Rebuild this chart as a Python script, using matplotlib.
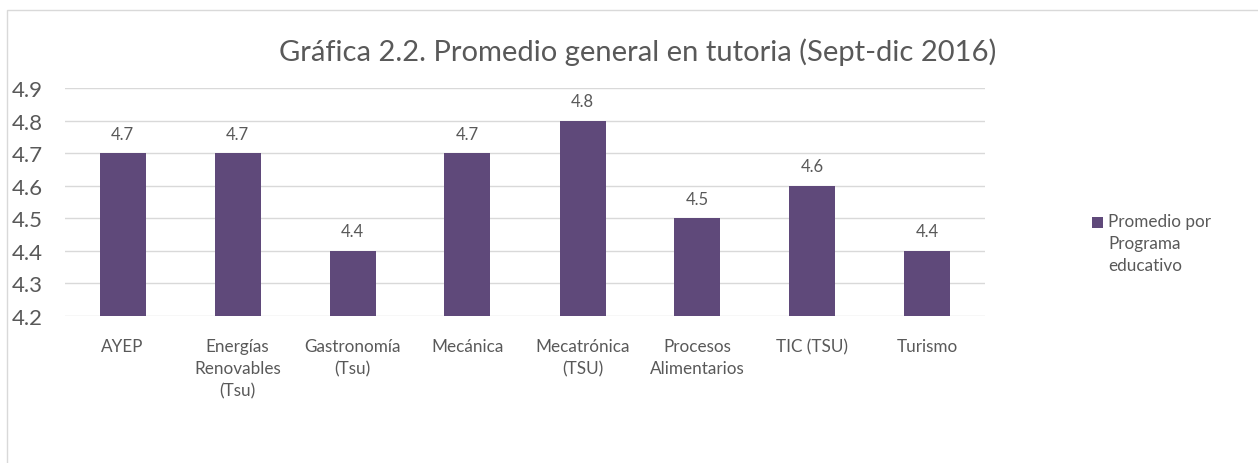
import matplotlib
matplotlib.use("Agg")
import matplotlib.pyplot as plt
from matplotlib.patches import Rectangle

categories = ["AYEP", "Energías\nRenovables\n(Tsu)", "Gastronomía\n(Tsu)", "Mecánica",
              "Mecatrónica\n(TSU)", "Procesos\nAlimentarios", "TIC (TSU)", "Turismo"]
values = [4.7, 4.7, 4.4, 4.7, 4.8, 4.5, 4.6, 4.4]
yticks = [4.2, 4.3, 4.4, 4.5, 4.6, 4.7, 4.8, 4.9]
series_name = "Promedio por\nPrograma\neducativo"
title = "Gráfica 2.2. Promedio general en tutoria (Sept-dic 2016)"

plt.rcParams['font.family'] = ['Lato', 'DejaVu Sans']
txt = "#595959"
bar_color = "#5F497A"
grid = "#D9D9D9"

fig = plt.figure(figsize=(12.58, 4.64), dpi=100)
fig.patches.append(Rectangle((7/1258, -0.1), 1.2, (464-11)/464 + 0.1, transform=fig.transFigure,
                             fill=False, edgecolor=grid, linewidth=1))
ax = fig.add_axes([65/1258, 1-317/464, 920/1258, (317-89)/464])
x = list(range(len(categories)))
ax.bar(x, [v - 4.2 for v in values], bottom=4.2, width=0.4, color=bar_color, zorder=3)
ax.set_ylim(4.2, 4.9)
ax.set_xlim(-0.5, len(categories) - 0.5)
ax.set_yticks(yticks)
ax.set_yticklabels([f"{t:.1f}" for t in yticks], fontsize=16, color=txt)
ax.set_xticks(x)
ax.set_xticklabels(categories, fontsize=12.3, color=txt, linespacing=1.45, va="top")
ax.tick_params(axis='both', length=0)
ax.tick_params(axis='y', pad=16)
ax.tick_params(axis='x', pad=16)
for s in ax.spines.values():
    s.set_visible(False)
ax.grid(axis='y', color=grid, linewidth=1, zorder=0)
for xi, v in zip(x, values):
    ax.text(xi, v + 0.035, f"{v:.1f}", ha="center", va="bottom", fontsize=12, color=txt)

fig.text(638/1258, 1-52/464, title, ha="center", va="center", fontsize=21, color=txt)

# legend
fig.patches.append(Rectangle((1092/1258, 1-229/464), 11/1258, 11/464, transform=fig.transFigure,
                             facecolor=bar_color, edgecolor="none"))
fig.text(1108/1258, 1-214/464, series_name, ha="left", va="top", fontsize=12.3,
         color=txt, linespacing=1.45)

fig.savefig("out.png", dpi=100)
